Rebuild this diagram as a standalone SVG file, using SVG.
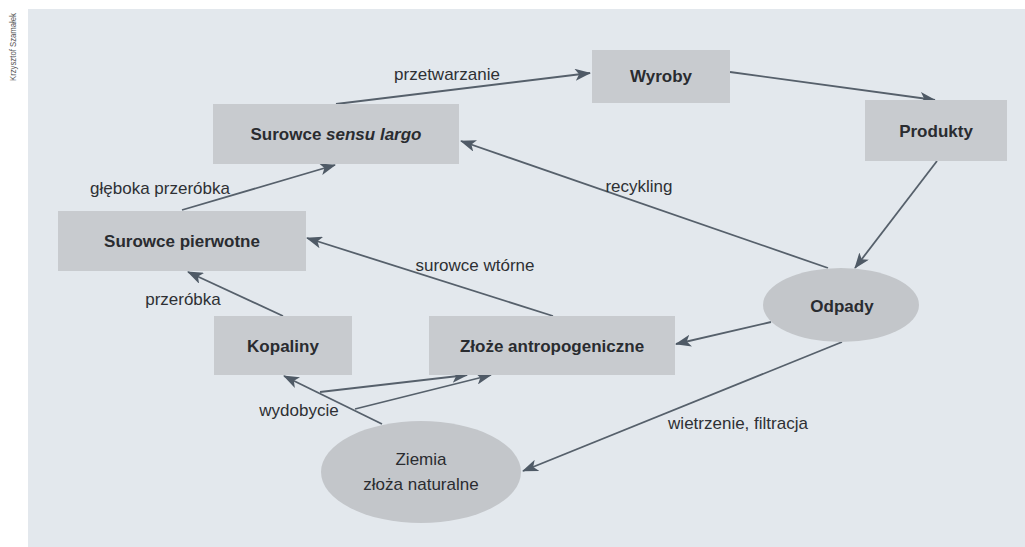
<svg xmlns="http://www.w3.org/2000/svg" width="1025" height="547" viewBox="0 0 1025 547">
<style>
.bg{fill:#e3e8ed}
.box{fill:#c8cbcf}
.ell{fill:#c3c6ca}
.nl{font-family:"Liberation Sans",Arial,sans-serif;font-weight:bold;font-size:17px;fill:#2a2c30;text-anchor:middle}
.el{font-family:"Liberation Sans",Arial,sans-serif;font-size:17px;fill:#2e3034;text-anchor:middle}
.zl{font-family:"Liberation Sans",Arial,sans-serif;font-weight:normal;font-size:17px;fill:#2a2c30;text-anchor:middle}
.c{stroke:#56606b;stroke-width:1.8;fill:none;marker-end:url(#ah)}
</style>
<defs>
<marker id="ah" viewBox="0 0 16 12" refX="15" refY="6" markerWidth="16" markerHeight="12" markerUnits="userSpaceOnUse" orient="auto">
<path d="M0,0 L16,6 L0,12 L4,6 Z" fill="#4f5a66"/>
</marker>
</defs>
<rect x="0" y="0" width="1025" height="547" fill="#ffffff"/>
<rect class="bg" x="28" y="9" width="997" height="538"/>
<text x="0" y="0" transform="translate(16,47) rotate(-90)" font-family="'Liberation Sans',Arial,sans-serif" font-size="9" fill="#555" text-anchor="middle" textLength="68" lengthAdjust="spacingAndGlyphs">Krzysztof Szamałek</text>

<g id="connectors">
<path class="c" d="M336,104 L590,73"/>
<path class="c" d="M730,72 L935,100"/>
<path class="c" d="M937,161 L855,268"/>
<path class="c" d="M828,268 L461,141"/>
<path class="c" d="M771,322 L676,344"/>
<path class="c" d="M842,342 L523,471"/>
<path class="c" d="M553,316 L307,238"/>
<path class="c" d="M283,316 L188,272"/>
<path class="c" d="M182,210 L335,165"/>
<path class="c" d="M382,424 L284,376"/>
<path class="c" d="M320,392 L467,375"/>
<path class="c" d="M355,409 L491,375"/>
<text class="el" x="447" y="80">przetwarzanie</text>
<text class="el" x="639" y="192">recykling</text>
<text class="el" x="160" y="194">głęboka przeróbka</text>
<text class="el" x="475" y="271">surowce wtórne</text>
<text class="el" x="183" y="305">przeróbka</text>
<text class="el" x="299" y="416">wydobycie</text>
<text class="el" x="738" y="429">wietrzenie, filtracja</text>
</g>

<g id="n-wyroby"><rect class="box" x="592" y="50" width="138" height="53"/><text class="nl" x="661" y="82">Wyroby</text></g>
<g id="n-produkty"><rect class="box" x="865" y="100" width="142" height="61"/><text class="nl" x="936" y="137">Produkty</text></g>
<g id="n-sensu"><rect class="box" x="213" y="104" width="246" height="60"/><text class="nl" x="336" y="140">Surowce <tspan font-style="italic">sensu largo</tspan></text></g>
<g id="n-pierwotne"><rect class="box" x="58" y="211" width="248" height="60"/><text class="nl" x="182" y="247">Surowce pierwotne</text></g>
<g id="n-kopaliny"><rect class="box" x="214" y="316" width="138" height="59"/><text class="nl" x="283" y="352">Kopaliny</text></g>
<g id="n-zloze"><rect class="box" x="429" y="316" width="246" height="59"/><text class="nl" x="552" y="352">Złoże antropogeniczne</text></g>
<g id="n-odpady"><ellipse class="ell" cx="841" cy="305" rx="78" ry="37"/><text class="nl" x="842" y="312">Odpady</text></g>
<g id="n-ziemia"><ellipse class="ell" cx="421" cy="472" rx="100" ry="51"/><text class="zl" x="421" y="465">Ziemia</text><text class="zl" x="421" y="490">złoża naturalne</text></g>
</svg>
